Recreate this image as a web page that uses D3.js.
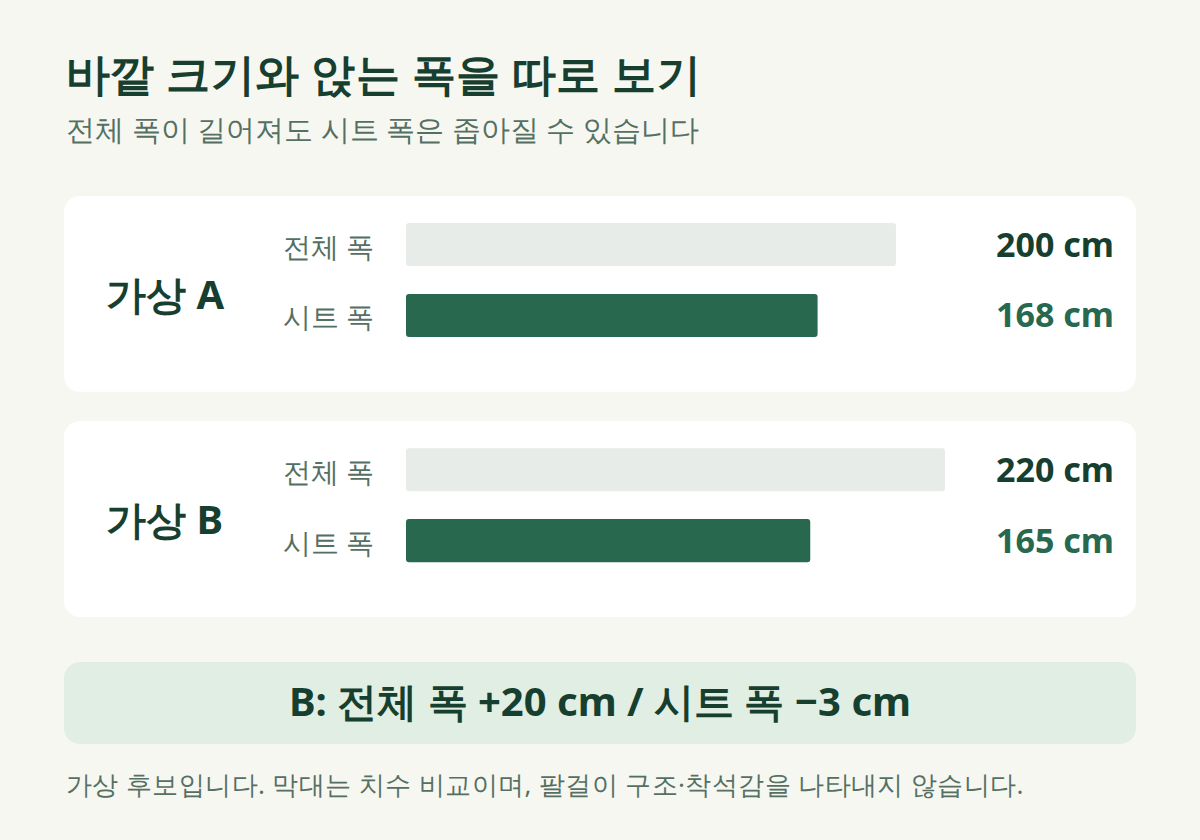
<!DOCTYPE html>
<html><head><meta charset="utf-8">
<script src="https://cdn.jsdelivr.net/npm/d3@7"></script>
<style>body{margin:0;background:#f7f7f2;}svg{display:block;font-family:"Noto Sans",sans-serif;}</style>
</head><body><svg id="c" width="1200" height="840"></svg>
<script>
const title = "바깥 크기와 앉는 폭을 따로 보기";
const subtitle = "전체 폭이 길어져도 시트 폭은 좁아질 수 있습니다";
const groups = ["가상 A", "가상 B"];
const measures = ["전체 폭", "시트 폭"];
const totalWidth = [200, 220];
const seatWidth = [168, 165];
const unit = "cm";
const summary = "B: 전체 폭 +20 cm / 시트 폭 −3 cm";
const footnote = "가상 후보입니다. 막대는 치수 비교이며, 팔걸이 구조·착석감을 나타내지 않습니다.";

const svg = d3.select("#c");
const dark = "#173f2f", green = "#27684f", muted = "#557063";
svg.append("rect").attr("width",1200).attr("height",840).attr("fill","#f7f7f2");
svg.append("text").attr("x",66).attr("y",90).attr("font-size",44).attr("letter-spacing",0.33).attr("font-weight",700).attr("fill",dark).text(title);
svg.append("text").attr("x",66).attr("y",140).attr("font-size",29).attr("fill",muted).text(subtitle);

const x = d3.scaleLinear().domain([0,200]).range([406,896]);
const cardY = d3.scaleBand().domain(groups).range([196,617]).paddingInner(0.13);
const rowY = d3.scaleBand().domain(measures).range([223,337]).paddingInner(0.394);

groups.forEach((g,i)=>{
  const top = cardY(g);
  const off = top - 196;
  const gg = svg.append("g");
  gg.append("rect").attr("x",64).attr("y",top).attr("width",1072).attr("height",cardY.bandwidth()).attr("rx",16).attr("fill","#ffffff");
  gg.append("text").attr("x",106).attr("y",top+113).attr("font-size",40).attr("font-weight",700).attr("fill",dark).text(g);
  const vals = [totalWidth[i], seatWidth[i]];
  measures.forEach((m,j)=>{
    const y0 = rowY(m)+off;
    const h = rowY.bandwidth();
    gg.append("text").attr("x",374).attr("y",y0+h/2+12).attr("text-anchor","end").attr("font-size",28).attr("fill",muted).text(m);
    gg.append("rect").attr("x",x(0)).attr("y",y0).attr("width",x(vals[j])-x(0)).attr("height",h).attr("rx",3)
      .attr("fill", j===0 ? "#e7ece8" : green);
    gg.append("text").attr("x",1114).attr("y",y0+h/2+12).attr("text-anchor","end").attr("font-size",34).attr("font-weight",700)
      .attr("fill", j===0 ? dark : green).text(vals[j]+" "+unit);
  });
});

svg.append("rect").attr("x",64).attr("y",662).attr("width",1072).attr("height",82).attr("rx",16).attr("fill","#e1eee4");
svg.append("text").attr("x",600).attr("y",716).attr("text-anchor","middle").attr("font-size",40).attr("font-weight",700).attr("fill",dark).text(summary);
svg.append("text").attr("x",66).attr("y",794).attr("font-size",26).attr("letter-spacing",0.4).attr("fill",muted).text(footnote);
</script></body></html>
